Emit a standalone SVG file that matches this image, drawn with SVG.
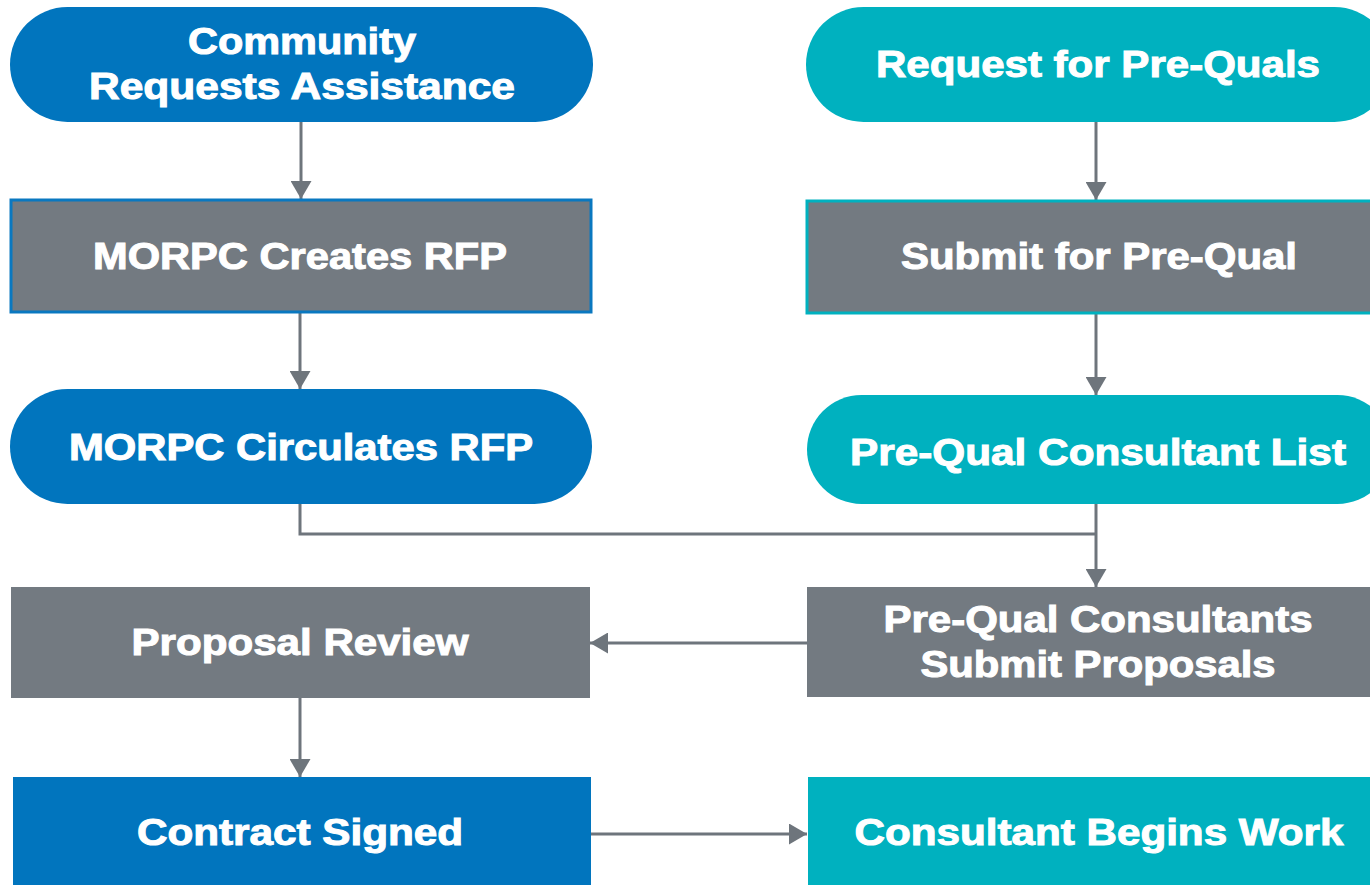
<svg xmlns="http://www.w3.org/2000/svg" width="1370" height="885" viewBox="0 0 1370 885">
<defs>
<style>
.blue{fill:#0175BE}
.teal{fill:#00B1BF}
.gray{fill:#737A81}
.t{font-family:"Liberation Sans",Arial,sans-serif;font-weight:bold;font-size:36px;fill:#fff;stroke:#fff;stroke-width:1;text-anchor:middle}
.c{fill:none;stroke:#6E757C;stroke-width:3}
</style>
<marker id="ah" viewBox="0 0 18 21" refX="18" refY="10.5" markerWidth="18" markerHeight="21" markerUnits="userSpaceOnUse" orient="auto">
<path d="M0,0 L18,10.5 L0,21 Z" fill="#6E757C"/>
</marker>
</defs>
<rect width="1370" height="885" fill="#fff"/>
<g id="connectors">
<line class="c" x1="301" y1="122" x2="301" y2="199" marker-end="url(#ah)"/>
<line class="c" x1="300" y1="313" x2="300" y2="389" marker-end="url(#ah)"/>
<line class="c" x1="1096" y1="122" x2="1096" y2="200" marker-end="url(#ah)"/>
<line class="c" x1="1096" y1="314" x2="1096" y2="395" marker-end="url(#ah)"/>
<polyline class="c" points="300,504 300,534 1096,534"/>
<line class="c" x1="1096" y1="504" x2="1096" y2="587" marker-end="url(#ah)"/>
<line class="c" x1="807" y1="643" x2="590" y2="643" marker-end="url(#ah)"/>
<line class="c" x1="300" y1="698" x2="300" y2="777" marker-end="url(#ah)"/>
<line class="c" x1="591" y1="834" x2="807" y2="834" marker-end="url(#ah)"/>
</g>
<g id="n1">
<rect class="blue" x="10" y="7" width="583" height="115" rx="57.5"/>
<text class="t" x="302" y="54" textLength="228" lengthAdjust="spacingAndGlyphs">Community</text>
<text class="t" x="302" y="99" textLength="426" lengthAdjust="spacingAndGlyphs">Requests Assistance</text>
</g>
<g id="n2">
<rect class="gray" x="11" y="200" width="580" height="112" stroke="#0A78C0" stroke-width="3"/>
<text class="t" x="300" y="269" textLength="414" lengthAdjust="spacingAndGlyphs">MORPC Creates RFP</text>
</g>
<g id="n3">
<rect class="blue" x="10" y="389" width="582" height="115" rx="57.5"/>
<text class="t" x="301" y="460" textLength="464" lengthAdjust="spacingAndGlyphs">MORPC Circulates RFP</text>
</g>
<g id="n4">
<rect class="teal" x="806" y="7" width="586" height="115" rx="57.5"/>
<text class="t" x="1098" y="77" textLength="444" lengthAdjust="spacingAndGlyphs">Request for Pre-Quals</text>
</g>
<g id="n5">
<rect class="gray" x="807" y="201" width="566" height="112" stroke="#00B1BF" stroke-width="3"/>
<text class="t" x="1099" y="269" textLength="396" lengthAdjust="spacingAndGlyphs">Submit for Pre-Qual</text>
</g>
<g id="n6">
<rect class="teal" x="807" y="395" width="585" height="109" rx="54.5"/>
<text class="t" x="1098" y="465" textLength="496" lengthAdjust="spacingAndGlyphs">Pre-Qual Consultant List</text>
</g>
<g id="n7">
<rect class="gray" x="807" y="587" width="563" height="110"/>
<text class="t" x="1098" y="632" textLength="429" lengthAdjust="spacingAndGlyphs">Pre-Qual Consultants</text>
<text class="t" x="1098" y="677" textLength="355" lengthAdjust="spacingAndGlyphs">Submit Proposals</text>
</g>
<g id="n8">
<rect class="gray" x="11" y="587" width="579" height="111"/>
<text class="t" x="300" y="655" textLength="337" lengthAdjust="spacingAndGlyphs">Proposal Review</text>
</g>
<g id="n9">
<rect class="blue" x="13" y="777" width="578" height="108"/>
<text class="t" x="300" y="845" textLength="326" lengthAdjust="spacingAndGlyphs">Contract Signed</text>
</g>
<g id="n10">
<rect class="teal" x="808" y="777" width="562" height="108"/>
<text class="t" x="1099" y="845" textLength="489" lengthAdjust="spacingAndGlyphs">Consultant Begins Work</text>
</g>
</svg>
